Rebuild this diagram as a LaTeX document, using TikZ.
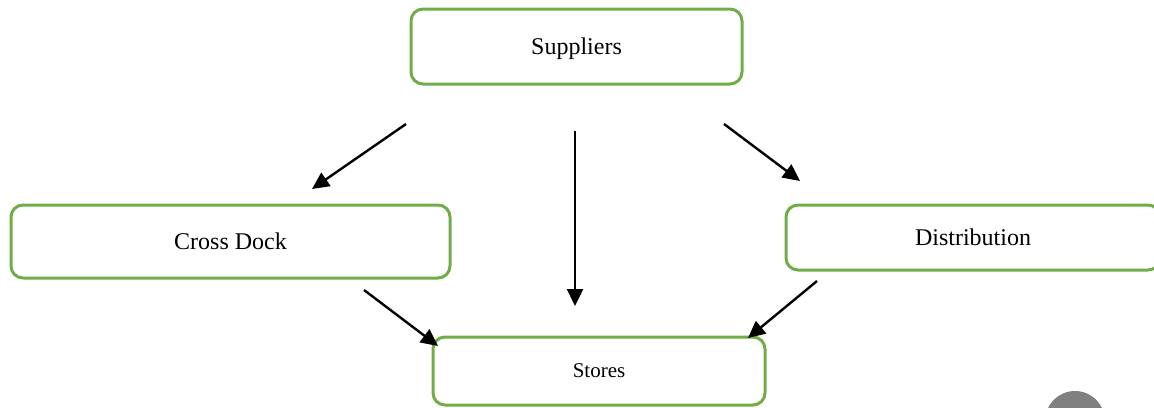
\documentclass[tikz,border=0pt]{standalone}
\usepackage{fontspec}
\setmainfont{Liberation Serif}
\usetikzlibrary{arrows.meta}
\definecolor{boxgreen}{HTML}{70AD47}
\tikzset{
	stagebox/.style={draw=boxgreen, line width=1.5pt, rounded corners=6pt, fill=white, inner sep=0pt, text height=8pt, text depth=0pt, font=\fontsize{12}{14}\selectfont},
	flow/.style={line width=1.2pt, -{Triangle[length=8.5pt, width=8pt]}}
}

\begin{document}
\begin{tikzpicture}[x=0.5pt, y=-0.5pt]
			%%%%% START %%%%%
			
			\useasboundingbox (0, 0) rectangle (1154, 407);
			
			\fill[black!50] (1075, 421) circle (30);
			
			\node[stagebox, minimum width=165.5pt, minimum height=37.5pt] (suppliers) at (576.5, 46.5) {Suppliers};
			\node[stagebox, minimum width=219.5pt, minimum height=36.5pt] (crossdock) at (230.5, 241.5) {Cross Dock};
			\node[stagebox, minimum width=187pt, minimum height=32.5pt] (distribution) at (973, 237.5) {Distribution};
			\node[stagebox, minimum width=166pt, minimum height=34pt, text height=6pt, font=\fontsize{10.5}{12}\selectfont] (stores) at (599, 371) {Stores};
			
			\coordinate (sup-l) at (406, 124);
			\coordinate (cd-in) at (312, 189);
			\coordinate (sup-m) at (575, 131);
			\coordinate (st-in) at (575, 306);
			\coordinate (sup-r) at (724, 124);
			\coordinate (di-in) at (800, 181);
			\coordinate (cd-out) at (364, 290);
			\coordinate (st-l) at (438, 346);
			\coordinate (di-out) at (817, 281);
			\coordinate (st-r) at (748, 338);
			
			\draw[flow] (sup-l) -- (cd-in);
			\draw[flow] (sup-m) -- (st-in);
			\draw[flow] (sup-r) -- (di-in);
			\draw[flow] (cd-out) -- (st-l);
			\draw[flow] (di-out) -- (st-r);
			
			%%%%% END %%%%%
		\end{tikzpicture}
\end{document}
